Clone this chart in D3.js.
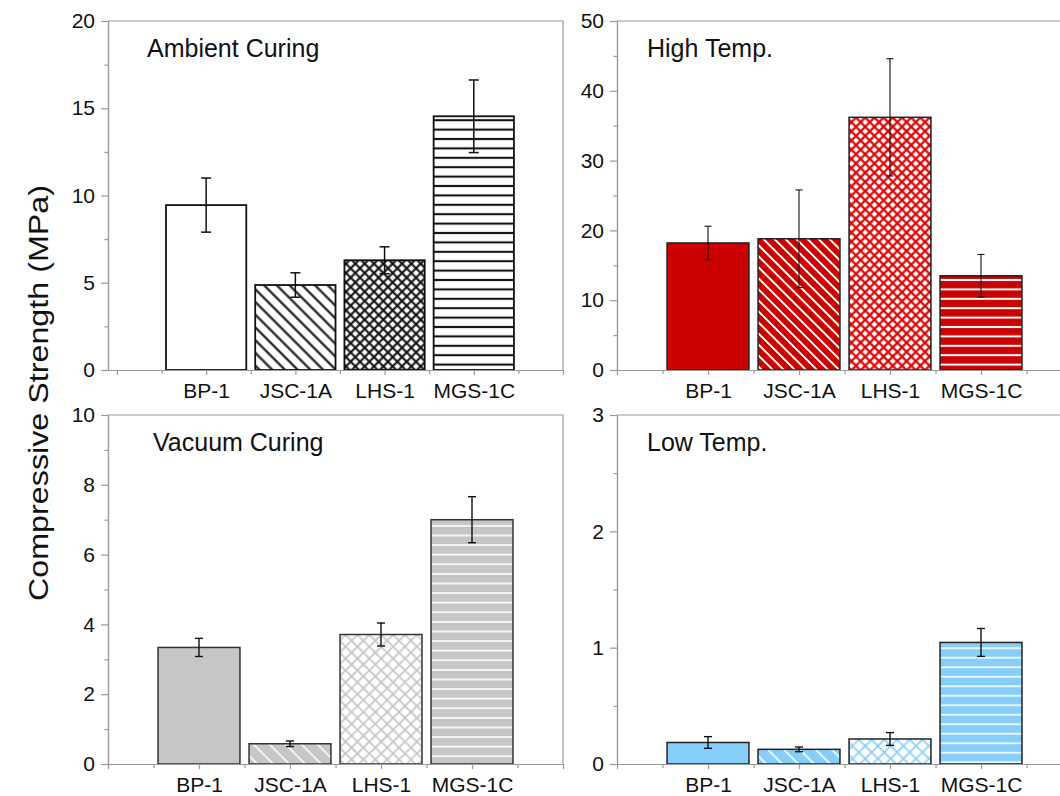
<!DOCTYPE html>
<html>
<head>
<meta charset="utf-8">
<script src="https://cdn.jsdelivr.net/npm/d3@7"></script>
<style>
  body { margin: 0; background: #fff; }
  text { font-family: "Liberation Sans", Arial, sans-serif; fill: #111; }
</style>
</head>
<body>
<div id="chart"></div>
<script>
const categories = ["BP-1", "JSC-1A", "LHS-1", "MGS-1C"];
const panelTitles = ["Ambient Curing", "High Temp.", "Vacuum Curing", "Low Temp."];

const ambientMeans = [9.45, 4.87, 6.29, 14.54];
const ambientErrs = [1.55, 0.7, 0.77, 2.08];
const highMeans = [18.2, 18.8, 36.2, 13.5];
const highErrs = [2.4, 7.0, 8.4, 3.05];
const vacuumMeans = [3.34, 0.58, 3.71, 7.0];
const vacuumErrs = [0.26, 0.08, 0.33, 0.66];
const lowMeans = [0.185, 0.126, 0.215, 1.045];
const lowErrs = [0.05, 0.02, 0.055, 0.12];

const ambientTicks = [0, 5, 10, 15, 20];
const highTicks = [0, 10, 20, 30, 40, 50];
const vacuumTicks = [0, 2, 4, 6, 8, 10];
const lowTicks = [0, 1, 2, 3];

const width = 1060, height = 796;
const plotW = 455, plotH = 349;

const svg = d3.select("#chart").append("svg")
  .attr("width", width).attr("height", height);
const defs = svg.append("defs");

// fill themes: base colour and hatch styles per panel
const themes = {
  ambient: { color: "#ffffff", line: "#111111", diag: 9, cross: 6.6, horiz: 9.4, sw: 2.1, crossLine: "#111111", crossSw: 2.1 },
  high: { color: "#cc0000", line: "#ffffff", diag: 7.8, cross: 6.5, horiz: 9.4, sw: 2, crossLine: "#dd0000", crossSw: 2.2 },
  vacuum: { color: "#c6c6c6", line: "#ffffff", diag: 11.3, cross: 8.4, horiz: 9.6, sw: 1.6, crossLine: "#c2c2c2", crossSw: 1.6 },
  low: { color: "#87cefa", line: "#ffffff", diag: 11.3, cross: 9, horiz: 9.5, sw: 1.6, crossLine: "#87cefa", crossSw: 1.7 },
};

function makePatterns(key, t) {
  // diagonal "\" lines
  let s = t.diag;
  let p = defs.append("pattern").attr("id", key + "-diag")
    .attr("patternUnits", "userSpaceOnUse")
    .attr("width", s).attr("height", s)
    .attr("patternTransform", "rotate(-45)");
  p.append("rect").attr("width", s).attr("height", s).attr("fill", t.color);
  p.append("line").attr("x1", s / 2).attr("x2", s / 2).attr("y1", 0).attr("y2", s)
    .attr("stroke", t.line).attr("stroke-width", t.sw);

  // cross hatch on white
  s = t.cross;
  p = defs.append("pattern").attr("id", key + "-cross")
    .attr("patternUnits", "userSpaceOnUse")
    .attr("width", s).attr("height", s)
    .attr("patternTransform", "rotate(-45)");
  p.append("rect").attr("width", s).attr("height", s).attr("fill", "#fff");
  p.append("line").attr("x1", s / 2).attr("x2", s / 2).attr("y1", 0).attr("y2", s)
    .attr("stroke", t.crossLine).attr("stroke-width", t.crossSw);
  p.append("line").attr("y1", s / 2).attr("y2", s / 2).attr("x1", 0).attr("x2", s)
    .attr("stroke", t.crossLine).attr("stroke-width", t.crossSw);

  // horizontal lines
  s = t.horiz;
  p = defs.append("pattern").attr("id", key + "-horiz")
    .attr("patternUnits", "userSpaceOnUse")
    .attr("width", 20).attr("height", s)
    .attr("y", 0.5);
  p.append("rect").attr("width", 20).attr("height", s).attr("fill", t.color);
  p.append("line").attr("x1", 0).attr("x2", 20).attr("y1", s / 2).attr("y2", s / 2)
    .attr("stroke", t.line).attr("stroke-width", t.sw);
}
Object.entries(themes).forEach(([k, t]) => makePatterns(k, t));

const panels = [
  { title: panelTitles[0], means: ambientMeans, errs: ambientErrs, ticks: ambientTicks, minor: 2.5, theme: "ambient",
    left: 108, top: 21, xDomain: [-0.1, 5], barStroke: "#111", errW: 1.5, cap: 10, titleX: 39 },
  { title: panelTitles[1], means: highMeans, errs: highErrs, ticks: highTicks, minor: 5, theme: "high",
    left: 617, top: 21, xDomain: [0, 5], barStroke: "#222", errW: 1.1, cap: 7, titleX: 30 },
  { title: panelTitles[2], means: vacuumMeans, errs: vacuumErrs, ticks: vacuumTicks, minor: 1, theme: "vacuum",
    left: 108, top: 415, xDomain: [0, 5], barStroke: "#333", errW: 1.4, cap: 8, titleX: 45 },
  { title: panelTitles[3], means: lowMeans, errs: lowErrs, ticks: lowTicks, minor: 0.5, theme: "low",
    left: 617, top: 415, xDomain: [0, 5], barStroke: "#222", errW: 1.4, cap: 8, titleX: 30 },
];

const axisColor = "#9a9a9a";

panels.forEach((pn) => {
  const g = svg.append("g").attr("transform", `translate(${pn.left},${pn.top})`);
  const yMax = pn.ticks[pn.ticks.length - 1];
  const x = d3.scaleLinear().domain(pn.xDomain).range([0, plotW]);
  const y = d3.scaleLinear().domain([0, yMax]).range([plotH, 0]);

  // frame (top + right)
  g.append("path")
    .attr("d", `M0,0H${plotW}V${plotH}`)
    .attr("fill", "none").attr("stroke", axisColor).attr("stroke-width", 1.2);

  // bars
  const fills = ["solid", "diag", "cross", "horiz"];
  const t = themes[pn.theme];
  const bw = (x(1) - x(0)) * 0.9;
  g.selectAll(".bar").data(pn.means).enter().append("rect")
    .attr("class", "bar")
    .attr("x", (d, i) => x(i + 1) - bw / 2)
    .attr("width", bw)
    .attr("y", (d) => y(d))
    .attr("height", (d) => y(0) - y(d))
    .attr("fill", (d, i) => fills[i] === "solid" ? t.color : `url(#${pn.theme}-${fills[i]})`)
    .attr("stroke", pn.barStroke)
    .attr("stroke-width", pn.theme === "ambient" ? 1.8 : 1.5);

  // error bars
  const eb = g.selectAll(".err").data(pn.means).enter().append("g")
    .attr("stroke", "#111").attr("stroke-width", pn.errW);
  eb.append("line")
    .attr("x1", (d, i) => x(i + 1)).attr("x2", (d, i) => x(i + 1))
    .attr("y1", (d, i) => y(d + pn.errs[i])).attr("y2", (d, i) => y(d - pn.errs[i]));
  eb.append("line")
    .attr("x1", (d, i) => x(i + 1) - pn.cap / 2).attr("x2", (d, i) => x(i + 1) + pn.cap / 2)
    .attr("y1", (d, i) => y(d + pn.errs[i])).attr("y2", (d, i) => y(d + pn.errs[i]));
  eb.append("line")
    .attr("x1", (d, i) => x(i + 1) - pn.cap / 2).attr("x2", (d, i) => x(i + 1) + pn.cap / 2)
    .attr("y1", (d, i) => y(d - pn.errs[i])).attr("y2", (d, i) => y(d - pn.errs[i]));

  // y axis: minor then major
  const minorVals = d3.range(0, yMax + 1e-9, pn.minor).filter((v) => !pn.ticks.includes(+v.toFixed(6)));
  const yMinor = g.append("g").call(d3.axisLeft(y).tickValues(minorVals).tickSize(3.5).tickFormat(""));
  const yMajor = g.append("g").call(d3.axisLeft(y).tickValues(pn.ticks).tickSize(7).tickPadding(6).tickFormat(d3.format("d")));
  [yMinor, yMajor].forEach((a) => {
    a.select(".domain").attr("stroke", axisColor).attr("stroke-width", 1.2);
    a.selectAll(".tick line").attr("stroke", axisColor).attr("stroke-width", 1.2);
  });
  yMajor.selectAll(".tick text").attr("font-size", 21).attr("fill", "#111");

  // x axis
  const xMinorVals = [0.5, 1.5, 2.5, 3.5, 4.5];
  const xMajorVals = [0, 1, 2, 3, 4, 5];
  const xMinor = g.append("g").attr("transform", `translate(0,${plotH})`)
    .call(d3.axisBottom(x).tickValues(xMinorVals).tickSize(4).tickFormat("").tickSizeOuter(0));
  const xMajor = g.append("g").attr("transform", `translate(0,${plotH})`)
    .call(d3.axisBottom(x).tickValues(xMajorVals).tickSize(5).tickSizeOuter(0)
      .tickFormat((v) => categories[v - 1] || ""));
  [xMinor, xMajor].forEach((a) => {
    a.select(".domain").attr("stroke", axisColor).attr("stroke-width", 1.2);
    a.selectAll(".tick line").attr("stroke", axisColor).attr("stroke-width", 1.2);
  });
  xMajor.selectAll(".tick text").attr("font-size", 21).attr("fill", "#111").attr("dy", "0.95em");

  // title
  g.append("text")
    .attr("x", pn.titleX)
    .attr("y", 36)
    .attr("font-size", 25)
    .text(pn.title);
});

svg.append("text")
  .attr("transform", `translate(48,393) rotate(-90)`)
  .attr("text-anchor", "middle")
  .attr("font-size", 27)
  .attr("textLength", 416)
  .attr("lengthAdjust", "spacingAndGlyphs")
  .text("Compressive Strength (MPa)");
</script>
</body>
</html>
